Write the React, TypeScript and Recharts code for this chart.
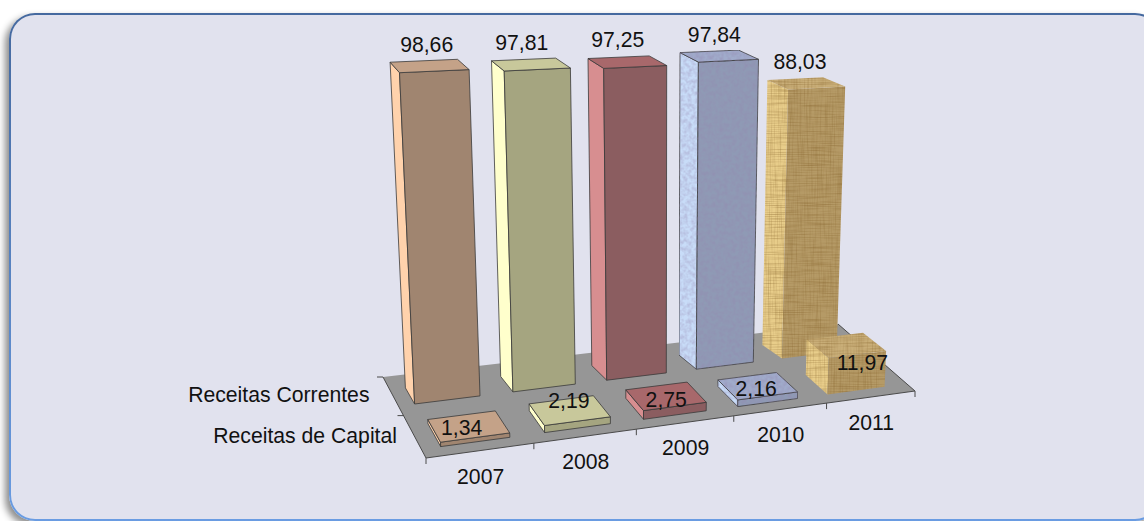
import { BarChart, Bar, XAxis, YAxis, LabelList } from 'recharts';

const W = 1144;
const H = 521;
const PLOT_H = 520;

const YEARS = ['2007', '2008', '2009', '2010', '2011'];
const CORRENTES = [98.66, 97.81, 97.25, 97.84, 88.03];
const CAPITAL = [1.34, 2.19, 2.75, 2.16, 11.97];

const data = YEARS.map((year, i) => ({ year, correntes: CORRENTES[i], capital: CAPITAL[i] }));

const FRONT = ['#A08570', '#A5A580', '#8B5D60', '#8F9AB5', '#B59A66'];
const SIDE = ['#FFD2AC', '#FFFFCC', '#D78E90', '#C8DCF8', '#E8CD8A'];
const TOP = ['#C4A288', '#C8C89B', '#A8686B', '#A0ABCB', '#C9AE78'];
const TEXTURE = ['', '', '', 'url(#granite)', 'url(#wood)'];
const EDGE = ['#3a3a3a', '#3a3a3a', '#3a3a3a', '#3a3a3a', 'none'];

// floor corners on screen: front-left, front-right, back-right, back-left
const P = [[426, 458], [915, 391], [838, 324], [383, 377]];
const dx1 = P[1][0] - P[2][0];
const dx2 = P[3][0] - P[2][0];
const sx = P[0][0] - P[1][0] + P[2][0] - P[3][0];
const dy1 = P[1][1] - P[2][1];
const dy2 = P[3][1] - P[2][1];
const sy = P[0][1] - P[1][1] + P[2][1] - P[3][1];
const den = dx1 * dy2 - dx2 * dy1;
const g = (sx * dy2 - dx2 * sy) / den;
const h = (dx1 * sy - sx * dy1) / den;
const a = P[1][0] - P[0][0] + g * P[1][0];
const b = P[3][0] - P[0][0] + h * P[3][0];
const d = P[1][1] - P[0][1] + g * P[1][1];
const e = P[3][1] - P[0][1] + h * P[3][1];
const VP = [660, 5800];
const ZK = -6.24e-4;

function project(u: number, v: number, z: number) {
  const w = g * u + h * v + 1 + ZK * z;
  return [
    (a * u + b * v + P[0][0] + VP[0] * ZK * z) / w,
    (d * u + e * v + P[0][1] + VP[1] * ZK * z) / w,
  ];
}

const pts = (list: number[][]) => list.map((p) => `${p[0].toFixed(1)},${p[1].toFixed(1)}`).join(' ');

const BACK_ROW = { v: [0.62, 0.83], scale: 0.965, offset: -0.002, skew: 0.015 };
const FRONT_ROW = { v: [0.1, 0.37], scale: 0.98, offset: 0.002, skew: 0.004 };
const BACK_LABEL_DX = [-3, -10, -11, -7, -9];
const BACK_LABEL_DY = [-1, -1, -2, -1, -1];
const FRONT_LABEL_DX = [-7, -1, 0, -2, 16];
const FRONT_LABEL_DY = [1, -12, 1, 1, 1];
const BAR_PX = 151;
const FONT = 21.2;

const toU = (px: number, row: typeof BACK_ROW) => (px / W) * row.scale + row.offset;

function bar3d(row: typeof BACK_ROW) {
  return (props: any) => {
    const { x, width, height, index } = props;
    const u0 = toU(x, row);
    const u1 = toU(x + width, row);
    const b0 = u0 * (1 - row.skew);
    const b1 = u1 * (1 - row.skew);
    const z = (height / PLOT_H) * 100;
    const [v0, v1] = row.v;
    const front = [project(u0, v0, 0), project(u1, v0, 0), project(u1, v0, z), project(u0, v0, z)];
    const side = [project(b0, v1, 0), project(u0, v0, 0), project(u0, v0, z), project(b0, v1, z)];
    const top = [project(u0, v0, z), project(u1, v0, z), project(b1, v1, z), project(b0, v1, z)];
    const stroke = EDGE[index];
    return (
      <g strokeWidth={0.8} strokeLinejoin="round" filter={TEXTURE[index] || undefined}>
        <polygon points={pts(side)} fill={SIDE[index]} stroke={stroke} />
        <polygon points={pts(front)} fill={FRONT[index]} stroke={stroke} />
        <polygon points={pts(top)} fill={TOP[index]} stroke={stroke} />
      </g>
    );
  };
}

const fmt = (v: number) => v.toFixed(2).replace('.', ',');

function backLabel(props: any) {
  const { x, width, height, value, index } = props;
  const uc = toU(x + width / 2, BACK_ROW);
  const z = (height / PLOT_H) * 100;
  const vc = (BACK_ROW.v[0] + BACK_ROW.v[1]) / 2;
  const p = project(uc, vc, z);
  return (
    <text x={p[0] + BACK_LABEL_DX[index]} y={p[1] - 13 + BACK_LABEL_DY[index]} textAnchor="middle" fontSize={FONT} fill="#111">
      {fmt(value)}
    </text>
  );
}

function frontLabel(props: any) {
  const { x, width, height, value, index } = props;
  const uc = toU(x + width / 2, FRONT_ROW);
  const z = (height / PLOT_H) * 100;
  const vc = (FRONT_ROW.v[0] + FRONT_ROW.v[1]) / 2;
  const p = project(uc, vc, z / 2);
  return (
    <text x={p[0] + FRONT_LABEL_DX[index]} y={p[1] + 6 + FRONT_LABEL_DY[index]} textAnchor="middle" fontSize={FONT} fill="#111">
      {fmt(value)}
    </text>
  );
}

function YearTick(props: any) {
  const { x, payload } = props;
  const p = project(x / W, 0, 0);
  return (
    <text x={p[0]} y={p[1] + 33} textAnchor="middle" fontSize={FONT} fill="#111">
      {payload.value}
    </text>
  );
}

function Floor() {
  const ticks = [0, 1, 2, 3, 4, 5].map((i) => project(i / 5, 0, 0));
  const mid = project(0, 0.5, 0);
  return (
    <g>
      <polygon points={pts(P)} fill="#969696" />
      <polyline points={pts([P[3], P[0], P[1], P[2]])} fill="none" stroke="#4a4a4a" strokeWidth={1} />
      {ticks.map((t, i) => (
        <line key={i} x1={t[0]} y1={t[1]} x2={t[0]} y2={t[1] + 6} stroke="#4a4a4a" />
      ))}
      <line x1={P[3][0] - 6} y1={P[3][1]} x2={P[3][0]} y2={P[3][1]} stroke="#4a4a4a" />
      <line x1={mid[0] - 6} y1={mid[1]} x2={mid[0]} y2={mid[1]} stroke="#4a4a4a" />
      <text x={369.5} y={402} textAnchor="end" fontSize={FONT} fill="#111">Receitas Correntes</text>
      <text x={397} y={443} textAnchor="end" fontSize={FONT} fill="#111">Receitas de Capital</text>
    </g>
  );
}

export default function App() {
  return (
    <div style={{ position: 'absolute', left: 0, top: 0, width: W, height: H, overflow: 'hidden', background: '#fff', fontFamily: '"Liberation Sans", Arial, sans-serif' }}>
      <div
        style={{
          position: 'absolute',
          left: 9,
          top: 13,
          width: 1152,
          height: 508,
          boxSizing: 'border-box',
          padding: 2,
          borderRadius: 26,
          background: 'linear-gradient(180deg, #45699f 0%, #6a9ce2 100%)',
          boxShadow: '-4px 4px 7px rgba(0,0,0,0.45)',
        }}
      >
        <div style={{ width: '100%', height: '100%', borderRadius: 24, background: '#E1E2EE' }} />
      </div>
      <div style={{ position: 'absolute', left: 0, top: 0 }}>
        <BarChart
          width={W}
          height={H}
          data={data}
          margin={{ top: 0, right: 0, bottom: 0, left: 0 }}
        >
          <defs>
            <filter id="granite" x="0" y="0" width="100%" height="100%" colorInterpolationFilters="sRGB">
              <feTurbulence type="fractalNoise" baseFrequency="0.25" numOctaves="4" seed="4" result="n" />
              <feColorMatrix in="n" type="matrix" values="0 0 0 0 0.58  0 0 0 0 0.52  0 0 0 0 0.68  0 0 0 0.7 -0.22" result="c" />
              <feComposite in="c" in2="SourceGraphic" operator="atop" />
            </filter>
            <filter id="wood" x="0" y="0" width="100%" height="100%" colorInterpolationFilters="sRGB">
              <feTurbulence type="fractalNoise" baseFrequency="0.03 0.9" numOctaves="2" seed="7" result="n1" />
              <feColorMatrix in="n1" type="matrix" values="0 0 0 0 0.5  0 0 0 0 0.36  0 0 0 0 0.14  0 0 0 0.8 -0.33" result="c1" />
              <feTurbulence type="fractalNoise" baseFrequency="0.7 0.03" numOctaves="2" seed="3" result="n2" />
              <feColorMatrix in="n2" type="matrix" values="0 0 0 0 0.5  0 0 0 0 0.36  0 0 0 0 0.14  0 0 0 0.6 -0.26" result="c2" />
              <feMerge result="m">
                <feMergeNode in="c1" />
                <feMergeNode in="c2" />
              </feMerge>
              <feComposite in="m" in2="SourceGraphic" operator="atop" />
            </filter>
          </defs>
          <Floor />
          <XAxis xAxisId="back" dataKey="year" height={1} axisLine={false} tickLine={false} tick={<YearTick />} interval={0} />
          <XAxis xAxisId="front" dataKey="year" hide />
          <YAxis hide domain={[0, 100]} />
          <Bar xAxisId="back" barSize={BAR_PX} dataKey="correntes" shape={bar3d(BACK_ROW)} isAnimationActive={false}>
            <LabelList dataKey="correntes" content={backLabel} />
          </Bar>
          <Bar xAxisId="front" barSize={BAR_PX} dataKey="capital" shape={bar3d(FRONT_ROW)} isAnimationActive={false}>
            <LabelList dataKey="capital" content={frontLabel} />
          </Bar>
        </BarChart>
      </div>
    </div>
  );
}
